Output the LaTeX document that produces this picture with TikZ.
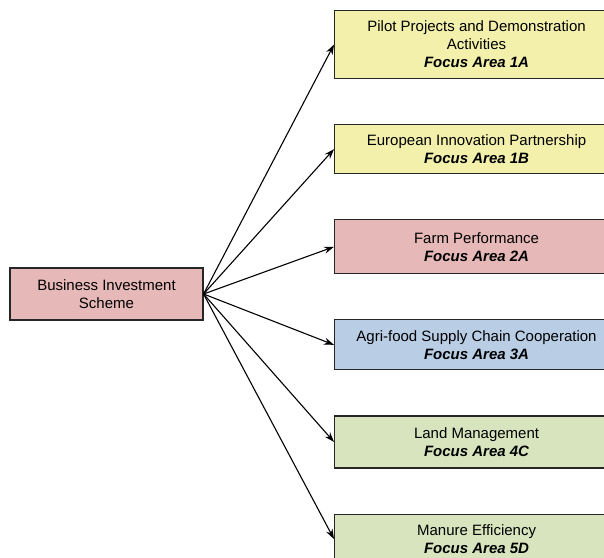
\documentclass[tikz,border=0pt]{standalone}
\usepackage{fontspec}
\setmainfont{Liberation Sans}
\usetikzlibrary{arrows.meta, positioning}
\definecolor{areayellow}{HTML}{F3F0AC}
\definecolor{areapink}{HTML}{E6B9B8}
\definecolor{areablue}{HTML}{B9CDE5}
\definecolor{areagreen}{HTML}{D7E4BD}
\tikzset{
    base/.style={text centered, align=center, font=\fontsize{15pt}{18pt}\selectfont},
    scheme/.style={base, rectangle, minimum width=193pt, minimum height=52pt, draw=black!85, line width=1.1pt, fill=areapink},
    area/.style={base, rectangle, minimum width=284pt, minimum height=50pt, inner ysep=6pt, draw=black!85, line width=1.1pt},
    arrow/.style={line width=1.1pt, -{Stealth[length=10pt, width=7pt]}, color=black}
}
\newcommand{\focus}[1]{{\bfseries\itshape Focus Area #1}}

\begin{document}
\begin{tikzpicture}
        \clip (0,0) rectangle (604pt,-557pt);

        % Focus areas
        \node (fa1a) [area, fill=areayellow, anchor=north west, minimum height=68pt] at (334pt,-10pt) {Pilot Projects and Demonstration\\Activities\\\focus{1A}};
        \node (fa1b) [area, fill=areayellow, below=45pt of fa1a, minimum height=49pt] {European Innovation Partnership\\\focus{1B}};
        \node (fa2a) [area, fill=areapink, below=45pt of fa1b, minimum height=54pt] {Farm Performance\\\focus{2A}};
        \node (fa3a) [area, fill=areablue, below=45pt of fa2a] {Agri-food Supply Chain Cooperation\\\focus{3A}};
        \node (fa4c) [area, fill=areagreen, below=45pt of fa3a, minimum height=52pt] {Land Management\\\focus{4C}};
        \node (fa5d) [area, fill=areagreen, below=45pt of fa4c] {Manure Efficiency\\\focus{5D}};

        % Scheme
        \node (bis) [scheme] at (106.5pt,-294pt) {Business Investment\\Scheme};

        \draw [arrow] (bis.east) -- (fa1a.west);
        \draw [arrow] (bis.east) -- (fa1b.west);
        \draw [arrow] (bis.east) -- (fa2a.west);
        \draw [arrow] (bis.east) -- (fa3a.west);
        \draw [arrow] (bis.east) -- (fa4c.west);
        \draw [arrow] (bis.east) -- (fa5d.west);
    \end{tikzpicture}
\end{document}
